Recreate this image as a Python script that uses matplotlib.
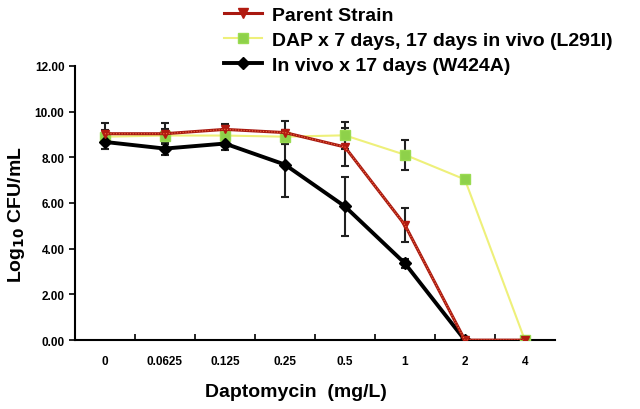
import numpy as np
import matplotlib.pyplot as plt
from matplotlib.lines import Line2D

plt.rcParams['font.family'] = ['Liberation Sans', 'DejaVu Sans']

doses = ['0', '0.0625', '0.125', '0.25', '0.5', '1', '2', '4']

# log10 CFU/mL
parent = [9.03, 9.03, 9.22, 9.08, 8.45, 5.04, 0.0, 0.0]
parent_err = [0.45, 0.45, 0.25, 0.5, 0.85, 0.75, 0.0, 0.0]

dap = [8.9, 8.95, 8.95, 8.9, 8.96, 8.11, 7.03, 0.0]
dap_err = [0.3, 0.3, 0.3, 0.3, 0.6, 0.65, 0.0, 0.0]

invivo = [8.67, 8.38, 8.6, 7.68, 5.85, 3.36, 0.0]
invivo_err = [0.3, 0.3, 0.3, 1.42, 1.3, 0.2, 0.0]

fig = plt.figure(figsize=(6.4, 4.1), dpi=100)
ax = fig.add_axes([0.117, 0.168, 0.75, 0.669])

x = np.arange(len(doses))
xi = np.arange(len(invivo))

# error bars
ax.errorbar(x, dap, yerr=dap_err, fmt='none', ecolor='#202020', elinewidth=1.5, capsize=3, capthick=1.5, zorder=2)
ax.errorbar(x, parent, yerr=parent_err, fmt='none', ecolor='#202020', elinewidth=1.5, capsize=3, capthick=1.5, zorder=2)
ax.errorbar(xi, invivo, yerr=invivo_err, fmt='none', ecolor='#202020', elinewidth=1.5, capsize=3, capthick=1.5, zorder=2)

# lines
ax.plot(x, dap, color='#EEF07A', lw=1.5, marker='s', ms=7, mfc='#8ED14A', mec='#9ADB52', zorder=3)
ax.plot(xi, invivo, color='black', lw=2.8, marker='D', ms=6, mfc='black', mec='black', zorder=4)
ax.plot(x, parent, color='#A81810', lw=2.2, marker='v', ms=6, mfc='#B21A10', mec='#B21A10', zorder=5)
ax.plot(x, parent, color='#F07040', lw=0.8, ls=(0, (1, 1.5)), zorder=6)

ax.set_xlim(-0.5, 7.5)
ax.set_ylim(0, 12)
ax.set_yticks(np.arange(0, 12.01, 2))
ax.set_yticklabels(['%.2f' % v for v in np.arange(0, 12.01, 2)], fontsize=8.5, fontweight='bold')
ax.set_xticks(x)
ax.set_xticklabels(doses, fontsize=8.5, fontweight='bold')
ax.set_xticks(np.arange(0.5, 7, 1), minor=True)
ax.tick_params(axis='x', which='major', length=0, pad=11)
ax.tick_params(axis='x', which='minor', length=4, width=1.2, direction='in')
ax.tick_params(axis='y', length=4, width=1.2, direction='out')

for s in ['top', 'right']:
    ax.spines[s].set_visible(False)
for s in ['left', 'bottom']:
    ax.spines[s].set_linewidth(1.5)

ax.set_ylabel(r'Log$_{\mathbf{10}}$ CFU/mL', fontsize=14, fontweight='bold')
ax.yaxis.set_label_coords(-0.1, 0.46)
ax.set_xlabel('Daptomycin  (mg/L)', fontsize=14, fontweight='bold')
ax.xaxis.set_label_coords(0.46, -0.155)

handles = [
    Line2D([], [], color='#A81810', lw=2.2, marker='v', ms=7, mfc='#B21A10', mec='#B21A10'),
    Line2D([], [], color='#EEF07A', lw=1.5, marker='s', ms=7, mfc='#8ED14A', mec='#9ADB52'),
    Line2D([], [], color='black', lw=2.8, marker='D', ms=6),
]
labels = ['Parent Strain', 'DAP x 7 days, 17 days in vivo (L291I)', 'In vivo x 17 days (W424A)']
fig.legend(handles, labels, loc='upper left', bbox_to_anchor=(0.322, 1.025), frameon=False,
           prop={'size': 14, 'weight': 'bold'}, handlelength=2.0, handletextpad=0.5, labelspacing=0.38)

fig.savefig('out.png', dpi=100)
